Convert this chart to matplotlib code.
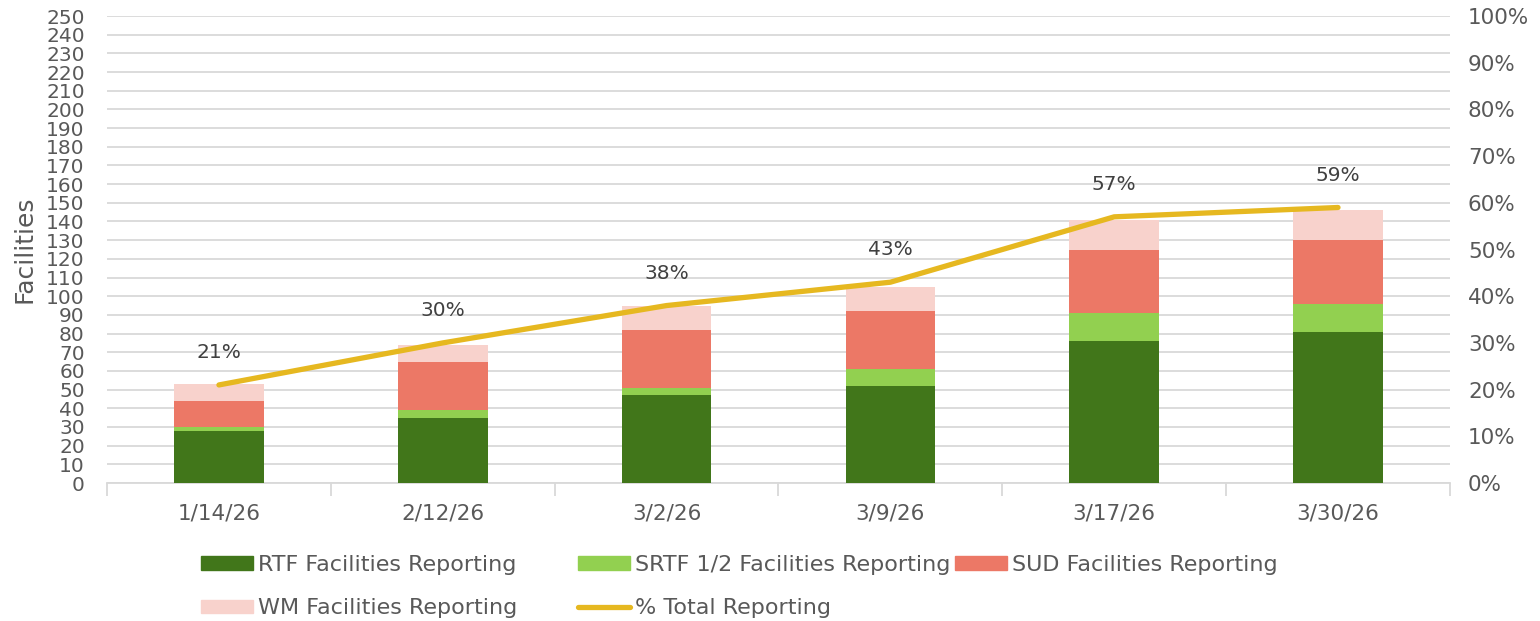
import numpy as np
import matplotlib
matplotlib.use("Agg")
import matplotlib.pyplot as plt
from matplotlib.lines import Line2D
from matplotlib.patches import Patch

plt.rcParams['font.family'] = ['DejaVu Sans Condensed', 'DejaVu Sans']

dates = ['1/14/26', '2/12/26', '3/2/26', '3/9/26', '3/17/26', '3/30/26']
rtf = [28, 35, 47, 52, 76, 81]
srtf = [2, 4, 4, 9, 15, 15]
sud = [14, 26, 31, 31, 34, 34]
wm = [9, 9, 13, 13, 16, 16]
pct_total = [21, 30, 38, 43, 57, 59]

c_rtf = '#41761A'
c_srtf = '#92D050'
c_sud = '#EC7866'
c_wm = '#F8D2CC'
c_line = '#E6B820'
grey = '#595959'

fig = plt.figure(figsize=(15.4, 6.21), dpi=100)
ax = fig.add_axes([0.0695, 0.2222, 0.872, 0.752])
x = np.arange(len(dates))
w = 0.4

b0 = np.zeros(len(dates))
for vals, col in [(rtf, c_rtf), (srtf, c_srtf), (sud, c_sud), (wm, c_wm)]:
    ax.bar(x, vals, w, bottom=b0, color=col, zorder=3)
    b0 = b0 + np.array(vals)

ax.set_xlim(-0.5, len(dates) - 0.5)
ax.set_ylim(0, 250)
ax.set_yticks(np.arange(0, 251, 10))
ax.yaxis.grid(True, color='#D9D9D9', linewidth=1.3, zorder=0)
ax.set_axisbelow(True)
for s in ['top', 'right', 'left']:
    ax.spines[s].set_visible(False)
ax.spines['bottom'].set_color('#D9D9D9')
ax.spines['bottom'].set_linewidth(1.3)
ax.set_xticks(x)
ax.set_xticklabels(dates)
ax.set_xticks(np.arange(-0.5, len(dates)), minor=True)
ax.tick_params(axis='x', which='major', length=0, pad=15, labelsize=15.5, labelcolor=grey)
ax.tick_params(axis='x', which='minor', length=9, width=1.3, color='#D9D9D9')
ax.tick_params(axis='y', length=0, labelsize=14.5, labelcolor=grey, pad=16)
ax.set_ylabel('Facilities', fontsize=18, color=grey, labelpad=7)

ax2 = ax.twinx()
ax2.set_ylim(0, 100)
ax2.set_yticks(np.arange(0, 101, 10))
ax2.set_yticklabels([f'{v}%' for v in range(0, 101, 10)])
ax2.tick_params(axis='y', length=0, labelsize=15.5, labelcolor=grey, pad=13)
for s in ax2.spines.values():
    s.set_visible(False)
ax2.plot(x, pct_total, color=c_line, linewidth=3.8, solid_capstyle='round', zorder=5)
for xi, p in zip(x, pct_total):
    ax2.annotate(f'{p}%', (xi, p), xytext=(0, 16.5), textcoords='offset points',
                 ha='center', va='bottom', fontsize=14.5, color='#404040')

# legend: fixed-width columns like the original, one legend per column
columns = [
    [Patch(color=c_rtf, label='RTF Facilities Reporting'),
     Patch(color=c_wm, label='WM Facilities Reporting')],
    [Patch(color=c_srtf, label='SRTF 1/2 Facilities Reporting'),
     Line2D([0], [0], color=c_line, linewidth=3.8, solid_capstyle='round', label='% Total Reporting')],
    [Patch(color=c_sud, label='SUD Facilities Reporting')],
]
col_x = [0.1305, 0.3753, 0.6201]
for hs, cx in zip(columns, col_x):
    leg = fig.legend(handles=hs, loc='upper left', bbox_to_anchor=(cx, 0.1063),
                     frameon=False, fontsize=16, handlelength=2.35, handleheight=0.55,
                     handletextpad=0.2, labelspacing=1.05, borderaxespad=0, borderpad=0)
    for t in leg.get_texts():
        t.set_color(grey)

fig.savefig('out.png', dpi=100)
